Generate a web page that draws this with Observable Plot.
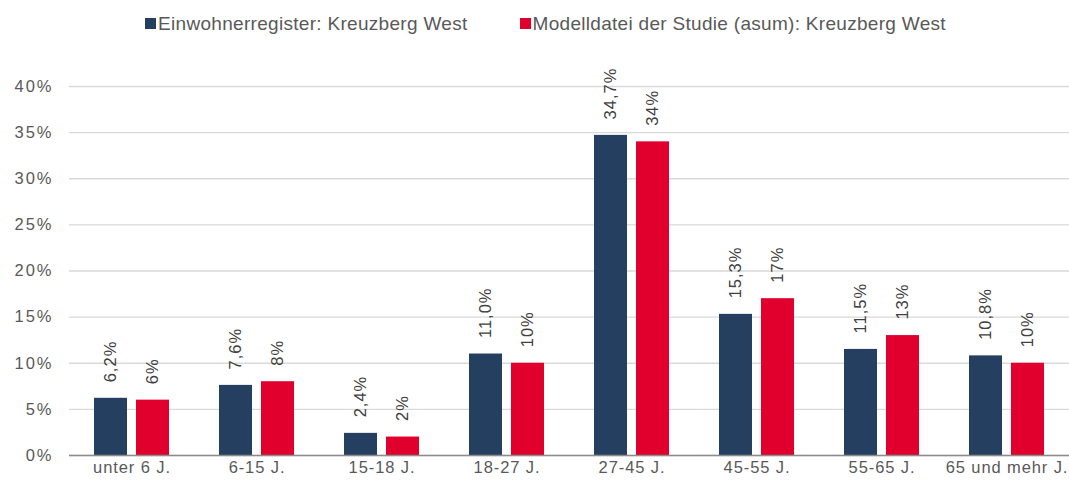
<!DOCTYPE html>
<html>
<head>
<meta charset="utf-8">
<script src="https://cdn.jsdelivr.net/npm/d3@7"></script>
<script src="https://cdn.jsdelivr.net/npm/@observablehq/plot@0.6"></script>
<style>
  html, body { margin: 0; padding: 0; background: #fff; }
  body { width: 1069px; height: 484px; overflow: hidden; font-family: "Liberation Sans", Arial, sans-serif; }
  #legend { height: 44px; padding-top: 3px; display: flex; justify-content: center; align-items: center; gap: 52px; padding-left: 22px; box-sizing: border-box; color: #595959; font-size: 19px; letter-spacing: 0.3px; }
  #legend .item { display: flex; align-items: center; }
  #legend .sw { width: 11px; height: 11px; margin-right: 2px; display: inline-block; }
  #chart svg g[aria-label="y-axis"] text, #chart svg g[aria-label="y-axis tick label"] text { letter-spacing: 2px; font-size: 16.5px; }
  #chart svg g[aria-label="x-axis"] text, #chart svg g[aria-label="x-axis tick label"] text { letter-spacing: 0.9px; font-size: 16.5px; }
  #chart svg g[aria-label="text"] text { letter-spacing: 1px; }
</style>
</head>
<body>
<div id="legend"></div>
<div id="chart"></div>
<script>
const categories = ["unter 6 J.", "6-15 J.", "15-18 J.", "18-27 J.", "27-45 J.", "45-55 J.", "55-65 J.", "65 und mehr J."];
const seriesNames = ["Einwohnerregister: Kreuzberg West", "Modelldatei der Studie (asum): Kreuzberg West"];
const einwohner = [6.2, 7.6, 2.4, 11.0, 34.7, 15.3, 11.5, 10.8];
const modell = [6, 8, 2, 10, 34, 17, 13, 10];
const einwohnerLabels = ["6,2%", "7,6%", "2,4%", "11,0%", "34,7%", "15,3%", "11,5%", "10,8%"];
const modellLabels = ["6%", "8%", "2%", "10%", "34%", "17%", "13%", "10%"];
const yTicks = [0, 5, 10, 15, 20, 25, 30, 35, 40];
const colors = ["#243f60", "#e1002d"];

const s1 = categories.map((c, i) => ({cat: c, value: einwohner[i], label: einwohnerLabels[i]}));
const s2 = categories.map((c, i) => ({cat: c, value: modell[i], label: modellLabels[i]}));

const legend = document.getElementById("legend");
seriesNames.forEach((n, i) => {
  const it = document.createElement("div");
  it.className = "item";
  const sw = document.createElement("span");
  sw.className = "sw";
  sw.style.background = colors[i];
  it.appendChild(sw);
  it.appendChild(document.createTextNode(n));
  legend.appendChild(it);
});

const labelStyle = {rotate: -90, textAnchor: "start", lineAnchor: "middle", dy: -16, fontSize: 16.5, fill: "#404040"};

const chart = Plot.plot({
  width: 1069,
  height: 440,
  marginLeft: 69,
  marginRight: 0,
  marginTop: 42,
  marginBottom: 29,
  style: {fontFamily: "'Liberation Sans', Arial, sans-serif", fontSize: "16.5px", color: "#595959", background: "#fff", overflow: "visible"},
  x: {domain: categories, padding: 0, tickSize: 0, tickPadding: 6, label: null},
  y: {domain: [0, 40], ticks: 8, tickFormat: d => d + "%", tickSize: 0, tickPadding: 16, label: null},
  marks: [
    Plot.ruleY(yTicks, {stroke: "#d9d9d9", strokeWidth: 1.3}),
    Plot.barY(s1, {x: "cat", y: "value", fill: colors[0], insetLeft: 25, insetRight: 67}),
    Plot.barY(s2, {x: "cat", y: "value", fill: colors[1], insetLeft: 67, insetRight: 25}),
    Plot.ruleY([0], {stroke: "#8c8c8c", strokeWidth: 1.5}),
    Plot.text(s1, {x: "cat", y: "value", text: "label", dx: -21, ...labelStyle}),
    Plot.text(s2, {x: "cat", y: "value", text: "label", dx: 21, ...labelStyle})
  ]
});
document.getElementById("chart").appendChild(chart);
</script>
</body>
</html>
